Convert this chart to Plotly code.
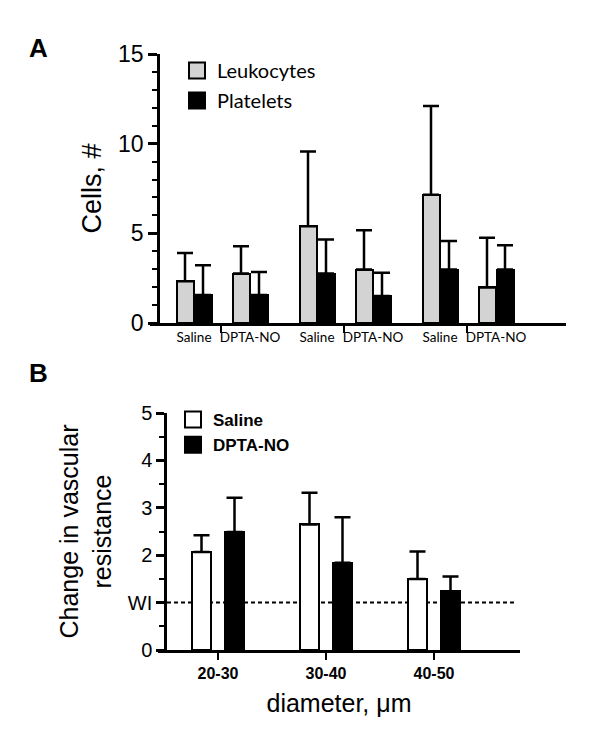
import plotly.graph_objects as go
import numpy as np

W, H = 600, 745

# ---------------- data: panel A ----------------
a_categories = ["Saline", "DPTA-NO", "Saline", "DPTA-NO", "Saline", "DPTA-NO"]
leuk_mean = [2.33, 2.76, 5.40, 2.98, 7.15, 1.98]
leuk_upper = [3.90, 4.28, 9.57, 5.17, 12.10, 4.76]
plat_mean = [1.56, 1.56, 2.76, 1.50, 2.98, 2.98]
plat_upper = [3.22, 2.85, 4.65, 2.80, 4.57, 4.33]
a_yticks = [0, 5, 10, 15]

# ---------------- data: panel B ----------------
b_categories = ["20-30", "30-40", "40-50"]
sal_mean = [2.07, 2.65, 1.50]
sal_upper = [2.42, 3.32, 2.08]
dpta_mean = [2.49, 1.84, 1.24]
dpta_upper = [3.21, 2.80, 1.55]
b_ytickvals = [0, 1, 2, 3, 4, 5]
b_yticktext = ["0", "WI", "2", "3", "4", "5"]
reference_level = 1

# ---------------- layout helpers (pixel-based, compensating page margin) ----------------
OFF = 8

def px2x(p):
    return (p - OFF) / W

def px2y(p):
    return 1 - (p - OFF) / H

# Panel A geometry: x units are pixels measured from the y axis
A_AX = 158
a_first, a_pair_step, a_sub_step = 36, 123, 56
a_centers = [a_first + a_pair_step * (i // 2) + a_sub_step * (i % 2) for i in range(len(a_categories))]
a_seps = [a_first + a_pair_step * p + a_sub_step / 2 - 1 for p in range(3)]
a_bw = 17
a_off = 9

# Panel B geometry
B_AX = 165
b_first, b_step = 53, 108
b_centers = [b_first + b_step * i for i in range(len(b_categories))]
b_bw = 19
b_off = 16.5

fig = go.Figure()

def err(mean, upper):
    return dict(type="data", symmetric=False,
                array=list(np.array(upper) - np.array(mean)),
                arrayminus=[0] * len(mean),
                color="black", thickness=2.5, width=8)

fig.add_trace(go.Bar(
    x=[c - a_off for c in a_centers], y=leuk_mean, width=a_bw,
    name="Leukocytes", marker=dict(color="#d3d3d3", line=dict(color="black", width=2)),
    error_y=err(leuk_mean, leuk_upper), xaxis="x", yaxis="y", showlegend=False))
fig.add_trace(go.Bar(
    x=[c + a_off for c in a_centers], y=plat_mean, width=a_bw,
    name="Platelets", marker=dict(color="black", line=dict(color="black", width=2)),
    error_y=err(plat_mean, plat_upper), xaxis="x", yaxis="y", showlegend=False))

fig.add_trace(go.Bar(
    x=[c - b_off for c in b_centers], y=sal_mean, width=b_bw,
    name="Saline", marker=dict(color="white", line=dict(color="black", width=2)),
    error_y=err(sal_mean, sal_upper), xaxis="x2", yaxis="y2", showlegend=False))
fig.add_trace(go.Bar(
    x=[c + b_off for c in b_centers], y=dpta_mean, width=b_bw,
    name="DPTA-NO", marker=dict(color="black", line=dict(color="black", width=2)),
    error_y=err(dpta_mean, dpta_upper), xaxis="x2", yaxis="y2", showlegend=False))

# legend entries (square swatches)
def swatch(name, fill, legend, group):
    return go.Scatter(x=[None], y=[None], mode="markers", name=name,
                      marker=dict(symbol="square", size=16, color=fill,
                                  line=dict(color="black", width=2)),
                      legend=legend, legendgroup=group, xaxis="x", yaxis="y")

fig.add_trace(swatch("Leukocytes", "#d3d3d3", "legend", "a1"))
fig.add_trace(swatch("Platelets", "black", "legend", "a2"))
fig.add_trace(swatch("<b>Saline</b>", "white", "legend2", "b1"))
fig.add_trace(swatch("<b>DPTA-NO</b>", "black", "legend2", "b2"))

arial = "Liberation Sans, Arial, sans-serif"
calib = "Lato, Carlito, sans-serif"

fig.update_layout(
    width=W, height=H, margin=dict(l=0, r=0, t=0, b=0, autoexpand=False),
    paper_bgcolor="white", plot_bgcolor="rgba(0,0,0,0)",
    barmode="overlay", bargap=0,
    font=dict(family=arial, color="black"),
    xaxis=dict(domain=[px2x(150), px2x(566)], range=[-(A_AX - 150), 566 - A_AX], anchor="y",
               automargin=False,
               showgrid=False, zeroline=False, showline=True, linecolor="black", linewidth=2.5,
               tickvals=a_centers, ticktext=a_categories, ticks="", ticklen=0,
               tickfont=dict(family=calib, size=13.5), fixedrange=True,
               minor=dict(tickvals=a_seps, ticks="outside", ticklen=7, tickwidth=2, tickcolor="black")),
    yaxis=dict(domain=[px2y(323), px2y(54)], range=[0, 15], anchor="free", position=px2x(A_AX),
               automargin=False,
               showgrid=False, zeroline=False, showline=True, linecolor="black", linewidth=2.5,
               tickvals=a_yticks, ticks="outside", ticklen=9, tickwidth=2.5, tickcolor="black",
               tickfont=dict(size=23),
               minor=dict(dtick=1, ticks="outside", ticklen=5, tickwidth=2, tickcolor="black"),
               title=dict(text="Cells, #", font=dict(size=27), standoff=7)),
    xaxis2=dict(domain=[px2x(158), px2x(520)], range=[-(B_AX - 158), 520 - B_AX], anchor="y2",
                automargin=False,
                showgrid=False, zeroline=False, showline=True, linecolor="black", linewidth=2.5,
                tickvals=b_centers, ticktext=["<b>%s</b>" % c for c in b_categories],
                ticks="outside", ticklen=7, tickwidth=2, tickcolor="black",
                tickfont=dict(size=16),
                title=dict(text="diameter, μm", font=dict(size=25), standoff=14)),
    yaxis2=dict(domain=[px2y(650), px2y(413)], range=[0, 5], anchor="free", position=px2x(B_AX),
                automargin=False,
                showgrid=False, zeroline=False, showline=True, linecolor="black", linewidth=2.5,
                tickvals=b_ytickvals, ticktext=b_yticktext,
                ticks="outside", ticklen=8, tickwidth=2.5, tickcolor="black",
                tickfont=dict(size=20),
                minor=dict(dtick=0.5, ticks="outside", ticklen=5, tickwidth=2, tickcolor="black"),
                title=dict(text="Change in vascular<br>resistance", font=dict(size=25), standoff=8)),
    legend=dict(x=px2x(177), y=px2y(51), xanchor="left", yanchor="top",
                font=dict(family=calib, size=20), bgcolor="rgba(0,0,0,0)",
                traceorder="grouped", tracegroupgap=1, itemsizing="trace"),
    legend2=dict(x=px2x(173), y=px2y(402), xanchor="left", yanchor="top",
                 font=dict(size=17), bgcolor="rgba(0,0,0,0)",
                 traceorder="grouped", tracegroupgap=0, itemsizing="trace"),
    shapes=[dict(type="line", xref="paper", yref="y2", x0=px2x(B_AX + 2), x1=px2x(517),
                 y0=reference_level, y1=reference_level,
                 line=dict(color="black", width=2, dash="4px,3px"), layer="below")],
    annotations=[
        dict(text="<b>A</b>", x=px2x(38), y=px2y(48), xref="paper", yref="paper",
             xanchor="center", yanchor="middle", showarrow=False, font=dict(size=26)),
        dict(text="<b>B</b>", x=px2x(38), y=px2y(373), xref="paper", yref="paper",
             xanchor="center", yanchor="middle", showarrow=False, font=dict(size=26)),
    ],
)

fig.write_html("out.html")
